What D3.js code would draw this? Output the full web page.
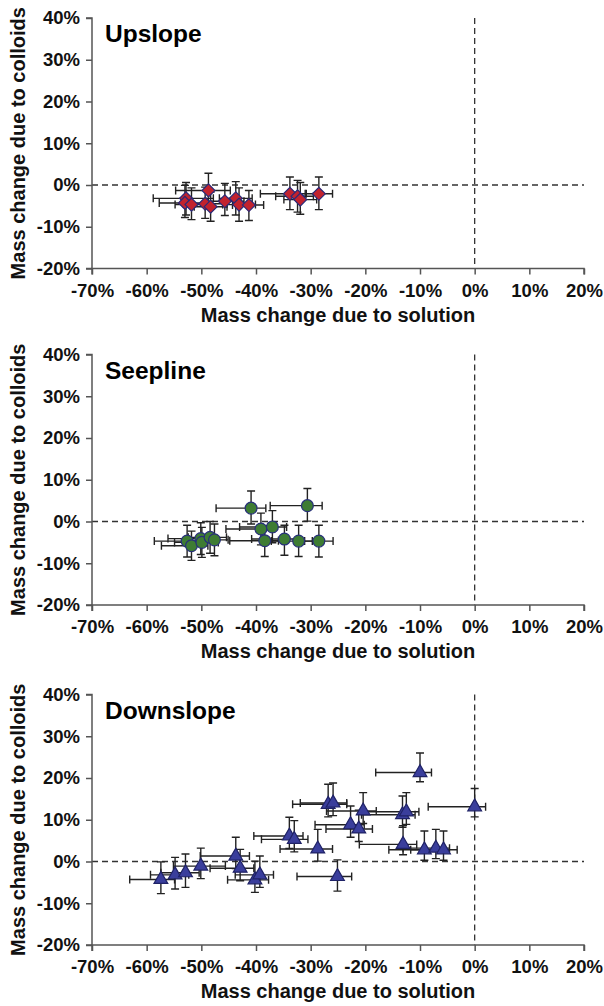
<!DOCTYPE html>
<html><head><meta charset="utf-8">
<script src="https://cdn.jsdelivr.net/npm/d3@7"></script>
<style>html,body{margin:0;padding:0;background:#fff;}svg{display:block;}</style>
</head><body>
<svg id="chart" width="604" height="1006"></svg>
<script>
// ---------- data ----------
const xTicks = [-70, -60, -50, -40, -30, -20, -10, 0, 10, 20];
const yTicks = [-20, -10, 0, 10, 20, 30, 40];
const panelNames = ["Upslope", "Seepline", "Downslope"];

// Upslope (diamonds)
const upX  = [-52.8, -53.0, -51.8, -49.3, -48.7, -48.3, -45.7, -43.7, -43.1, -41.3, -33.8, -32.4, -31.9, -28.5];
const upY  = [-3.2, -4.3, -4.7, -4.5, -1.3, -5.2, -3.9, -3.2, -4.7, -4.8, -2.1, -2.7, -3.5, -2.1];
const upXm = [6.0, 4.7, 3.0, 4.0, 6.0, 3.0, 3.5, 3.0, 3.0, 3.0, 5.4, 4.0, 3.0, 2.5];
const upXp = [5.0, 4.0, 3.0, 4.0, 4.0, 3.0, 3.5, 3.0, 3.0, 2.7, 3.0, 2.9, 3.0, 2.5];
const upYm = [4.0, 3.5, 3.6, 3.5, 4.1, 3.5, 3.4, 4.0, 4.0, 3.7, 3.8, 3.8, 3.5, 3.8];
const upYp = [3.8, 4.2, 4.0, 4.0, 4.1, 3.5, 4.3, 4.0, 4.0, 3.5, 4.0, 3.8, 4.1, 4.0];

// Seepline (circles)
const seX  = [-52.6, -51.8, -50.1, -49.9, -48.4, -47.6, -40.9, -39.1, -38.4, -37.0, -34.8, -32.2, -30.6, -28.5];
const seY  = [-4.7, -5.8, -4.1, -5.0, -3.8, -4.4, 3.2, -1.8, -4.6, -1.3, -4.2, -4.7, 3.8, -4.7];
const seXm = [6.0, 5.5, 6.0, 5.0, 4.0, 3.0, 6.4, 6.4, 6.4, 6.0, 6.0, 5.0, 6.8, 2.6];
const seXp = [3.0, 3.0, 3.0, 3.0, 3.0, 2.5, 2.7, 2.5, 2.5, 2.6, 2.5, 2.5, 2.7, 2.6];
const seYm = [3.8, 3.5, 3.8, 3.6, 3.8, 3.8, 3.8, 3.8, 3.8, 3.8, 3.9, 3.7, 3.7, 3.8];
const seYp = [3.8, 3.5, 3.8, 3.6, 3.8, 3.8, 4.1, 3.8, 3.6, 3.9, 3.3, 3.8, 4.1, 3.8];

// Downslope (triangles)
const dnX  = [-57.4, -54.8, -52.9, -50.1, -43.7, -42.9, -40.2, -39.3, -33.9, -33.0, -28.7, -26.8, -25.9,
              -25.1, -22.7, -21.2, -20.4, -13.2, -13.1, -12.5, -10.0, -9.2, -7.1, -5.7, 0.0];
const dnY  = [-4.3, -3.2, -2.7, -1.1, 1.3, -1.6, -4.4, -3.2, 6.1, 5.3, 3.0, 13.7, 14.0,
              -3.6, 8.8, 7.8, 12.1, 11.2, 4.1, 11.9, 21.3, 2.8, 3.2, 2.8, 13.1];
const dnXm = [5.7, 4.5, 4.5, 5.0, 6.5, 5.5, 5.0, 4.5, 6.5, 6.0, 6.9, 6.5, 6.0,
              7.4, 6.5, 6.0, 6.7, 7.5, 8.0, 8.2, 8.1, 6.5, 6.0, 6.0, 8.5];
const dnXp = [2.5, 2.5, 2.5, 4.5, 2.5, 2.5, 2.5, 2.5, 2.5, 2.5, 2.7, 3.4, 2.5,
              2.6, 2.5, 2.5, 2.4, 2.3, 2.5, 2.3, 2.1, 2.5, 2.5, 2.5, 2.0];
const dnYm = [3.4, 3.4, 3.5, 3.0, 3.0, 3.0, 3.0, 3.0, 3.0, 3.0, 2.9, 3.0, 3.0,
              3.5, 3.0, 3.0, 3.0, 3.0, 2.5, 3.0, 2.2, 2.5, 2.5, 2.5, 2.4];
const dnYp = [4.2, 4.2, 4.5, 4.3, 4.5, 4.5, 4.5, 4.5, 4.5, 4.5, 4.7, 4.8, 4.8,
              4.0, 4.5, 4.5, 4.4, 4.5, 4.5, 4.6, 4.7, 4.5, 4.5, 4.5, 4.4];

// ---------- layout ----------
const svg = d3.select("#chart");
const left = 92, right = 584;
const panelTops = [18, 354.5, 694.5];
const panelH = 250.5;
const fontFam = "'Liberation Sans', Arial, Helvetica, sans-serif";

const panels = [
  {name: panelNames[0], x: upX, y: upY, xm: upXm, xp: upXp, ym: upYm, yp: upYp,
   shape: "diamond", fill: "#c2232e", stroke: "#2b2a78"},
  {name: panelNames[1], x: seX, y: seY, xm: seXm, xp: seXp, ym: seYm, yp: seYp,
   shape: "circle", fill: "#3e7c33", stroke: "#273079"},
  {name: panelNames[2], x: dnX, y: dnY, xm: dnXm, xp: dnXp, ym: dnYm, yp: dnYp,
   shape: "triangle", fill: "#3a3e9c", stroke: "#1f2266"}
];

const axisColor = "#555";
const textColor = "#111";

panels.forEach((p, pi) => {
  const top = panelTops[pi], bottom = top + panelH;
  const x = d3.scaleLinear().domain([-70, 20]).range([left, right]);
  const y = d3.scaleLinear().domain([-20, 40]).range([bottom, top]);
  const g = svg.append("g");

  // dashed reference lines
  g.append("line").attr("x1", left).attr("x2", right).attr("y1", y(0)).attr("y2", y(0))
    .attr("stroke", "#333").attr("stroke-width", 1.3).attr("stroke-dasharray", "6,4");
  g.append("line").attr("x1", x(0)).attr("x2", x(0)).attr("y1", top).attr("y2", bottom)
    .attr("stroke", "#333").attr("stroke-width", 1.3).attr("stroke-dasharray", "6,4");

  // axes
  const xAxis = g.append("g").attr("transform", `translate(0,${bottom})`)
    .call(d3.axisBottom(x).tickValues(xTicks).tickSize(6).tickPadding(9).tickFormat(d => d + "%"));
  const yAxis = g.append("g").attr("transform", `translate(${left},0)`)
    .call(d3.axisLeft(y).tickValues(yTicks).tickSize(6).tickPadding(6).tickFormat(d => d + "%"));
  [xAxis, yAxis].forEach(a => {
    a.select(".domain").attr("stroke", axisColor).attr("stroke-width", 1.5);
    a.selectAll(".tick line").attr("stroke", axisColor).attr("stroke-width", 1.5);
    a.selectAll(".tick text").attr("fill", textColor).style("font-family", fontFam)
      .style("font-size", "18.5px").style("font-weight", "bold");
  });
  xAxis.select(".domain").attr("d", `M${left},6V0H${right}V6`);
  yAxis.select(".domain").attr("d", `M-6,${top}H0V${bottom}H-6`);

  // titles
  g.append("text").attr("x", (left + right) / 2).attr("y", bottom + 53)
    .attr("text-anchor", "middle").attr("fill", textColor)
    .style("font-family", fontFam).style("font-size", "20px").style("font-weight", "bold")
    .text("Mass change due to solution");
  g.append("text").attr("transform", `translate(25,${(top + bottom) / 2}) rotate(-90)`)
    .attr("text-anchor", "middle").attr("fill", textColor)
    .style("font-family", fontFam).style("font-size", "20px").style("font-weight", "bold")
    .text("Mass change due to colloids");
  g.append("text").attr("x", 105).attr("y", top + 24).attr("fill", "#000")
    .style("font-family", fontFam).style("font-size", "24.5px").style("font-weight", "bold")
    .text(p.name);

  const data = p.x.map((v, i) => ({x: v, y: p.y[i], xm: p.xm[i], xp: p.xp[i], ym: p.ym[i], yp: p.yp[i]}));
  const eb = g.append("g").attr("stroke", "#222").attr("stroke-width", 1.4).attr("fill", "none");
  const cap = 4;
  data.forEach(d => {
    const cx = x(d.x), cy = y(d.y);
    const x0 = x(d.x - d.xm), x1 = x(d.x + d.xp);
    const y0 = y(d.y - d.ym), y1 = y(d.y + d.yp);
    eb.append("path").attr("d",
      `M${x0},${cy}H${x1}M${x0},${cy - cap}V${cy + cap}M${x1},${cy - cap}V${cy + cap}` +
      `M${cx},${y0}V${y1}M${cx - cap},${y0}H${cx + cap}M${cx - cap},${y1}H${cx + cap}`);
  });

  let sym;
  if (p.shape === "diamond") sym = d3.symbol().type(d3.symbolSquare).size(84);
  else if (p.shape === "circle") sym = d3.symbol().type(d3.symbolCircle).size(110);
  else sym = d3.symbol().type(d3.symbolTriangle).size(82);
  g.append("g").selectAll("path").data(data).join("path")
    .attr("d", sym())
    .attr("transform", d => `translate(${x(d.x)},${y(d.y)})` + (p.shape === "diamond" ? " rotate(45)" : ""))
    .attr("fill", p.fill).attr("stroke", p.stroke).attr("stroke-width", 1.2);
});
</script>
</body></html>
